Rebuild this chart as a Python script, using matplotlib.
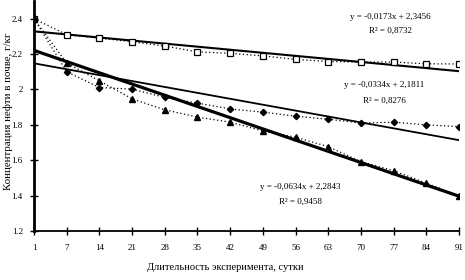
import matplotlib
matplotlib.use("Agg")
import matplotlib.pyplot as plt
import numpy as np

plt.rcParams['font.family'] = ['Liberation Serif', 'DejaVu Serif']

days = ["1", "7", "14", "21", "28", "35", "42", "49", "56", "63", "70", "77", "84", "91"]
squares = [2.40, 2.31, 2.29, 2.27, 2.245, 2.213, 2.204, 2.19, 2.17, 2.158, 2.155, 2.155, 2.145, 2.144]
diamonds = [2.40, 2.10, 2.011, 2.002, 1.955, 1.923, 1.89, 1.872, 1.849, 1.832, 1.81, 1.815, 1.80, 1.79]
triangles = [2.40, 2.149, 2.049, 1.947, 1.885, 1.844, 1.815, 1.766, 1.73, 1.677, 1.592, 1.541, 1.47, 1.40]

trend_sq = (-0.0173, 2.3456)
trend_di = (-0.0334, 2.1811)
trend_tr = (-0.0634, 2.2843)

eq_sq = ("y = -0,0173x + 2,3456", "R² = 0,8732")
eq_di = ("y = -0,0334x + 2,1811", "R² = 0,8276")
eq_tr = ("y = -0,0634x + 2,2843", "R² = 0,9458")

yticks = [1.2, 1.4, 1.6, 1.8, 2.0, 2.2, 2.4]
ytick_labels = ["1.2", "1.4", "1.6", "1.8", "2", "2.2", "2.4"]

fig = plt.figure(figsize=(4.65, 2.8), dpi=100)
ax = fig.add_axes([34/465, 1-231/280, (459-34)/465, 230/280])

idx = np.arange(len(days))
n = idx + 1  # Excel trendline x

# data series (dotted)
ax.plot(idx, squares, linestyle=(0, (1, 2)), color='black', lw=0.9, marker='s',
        markersize=5, markerfacecolor='white', markeredgecolor='black', markeredgewidth=0.9, zorder=4)
ax.plot(idx, diamonds, linestyle=(0, (1, 2)), color='black', lw=0.9, marker='D',
        markersize=3.2, markerfacecolor='black', markeredgecolor='black', zorder=4)
ax.plot(idx, triangles, linestyle=(0, (1, 2)), color='black', lw=0.9, marker='^',
        markersize=4.2, markerfacecolor='black', markeredgecolor='black', zorder=4)

# trendlines
ax.plot(idx, trend_sq[0]*n + trend_sq[1], color='black', lw=1.5, zorder=3)
ax.plot(idx, trend_di[0]*n + trend_di[1], color='black', lw=1.3, zorder=3)
ax.plot(idx, trend_tr[0]*n + trend_tr[1], color='black', lw=2.3, zorder=3)

ax.set_xlim(0, len(days)-1)
ax.set_ylim(1.2, 2.5)
ax.set_xticks(idx)
ax.set_xticklabels(days)
ax.set_yticks(yticks)
ax.set_yticklabels(ytick_labels)

for s in ['top', 'right']:
    ax.spines[s].set_visible(False)
ax.spines['left'].set_linewidth(2.0)
ax.spines['bottom'].set_linewidth(1.3)
ax.tick_params(axis='both', direction='inout', length=6, width=1.0, labelsize=6.5, colors='black')
ax.tick_params(axis='x', pad=6)
ax.tick_params(axis='y', pad=5)

fs = 6.5
fig.text(390/465, 1-17/280, eq_sq[0], ha='center', va='center', fontsize=fs)
fig.text(390/465, 1-31/280, eq_sq[1], ha='center', va='center', fontsize=fs)
fig.text(384/465, 1-85/280, eq_di[0], ha='center', va='center', fontsize=fs)
fig.text(384/465, 1-101/280, eq_di[1], ha='center', va='center', fontsize=fs)
fig.text(300/465, 1-187/280, eq_tr[0], ha='center', va='center', fontsize=fs)
fig.text(300/465, 1-202/280, eq_tr[1], ha='center', va='center', fontsize=fs)

fig.text(225/465, 1-268/280, "Длительность эксперимента, сутки", ha='center', va='center', fontsize=7.5)
fig.text(8/465, 1-111/280, "Концентрация нефти в почве, г/кг", ha='center', va='center',
         rotation=90, fontsize=7.8)

fig.savefig("out.png", dpi=100)
